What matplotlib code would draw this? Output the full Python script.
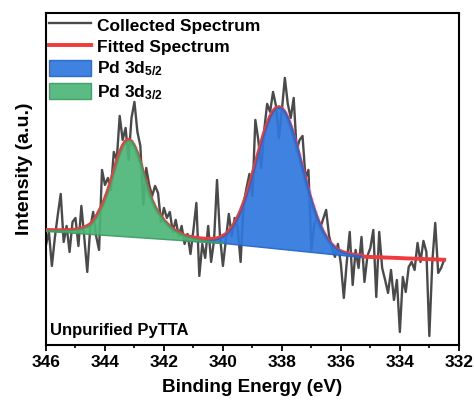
import numpy as np
import matplotlib
matplotlib.use("Agg")
import matplotlib.pyplot as plt
from matplotlib.ticker import MultipleLocator

plt.rcParams["font.family"] = "Liberation Sans"
plt.rcParams["font.weight"] = "bold"
plt.rcParams["mathtext.fontset"] = "custom"
plt.rcParams["mathtext.rm"] = "Liberation Sans:bold"
plt.rcParams["mathtext.it"] = "Liberation Sans:bold"
plt.rcParams["mathtext.bf"] = "Liberation Sans:bold"

# energy grid of the scan (eV), 0.1 eV step
e_start = 346.0
e_step = 0.1

# collected counts (a.u.)
collected = [100, 113, 79, 107, 130, 151, 103, 119, 93, 123,
             127, 99, 139, 107, 73, 117, 133, 109, 95, 175,
             160, 167, 155, 193, 185, 229, 205, 217, 185, 227,
             243, 213, 199, 140, 177, 160, 149, 159, 152, 123,
             137, 127, 133, 113, 125, 109, 119, 101, 111, 91,
             115, 142, 69, 101, 87, 119, 83, 105, 165, 109,
             79, 105, 131, 109, 127, 117, 83, 140, 157, 171,
             149, 225, 205, 177, 215, 241, 233, 253, 239, 207,
             235, 267, 241, 227, 247, 195, 205, 209, 167, 175,
             95, 121, 127, 117, 126, 135, 109, 97, 88, 101,
             81, 47, 83, 113, 60, 95, 77, 108, 63, 89,
             97, 115, 48, 113, 77, 65, 52, 75, 45, 65,
             13, 68, 53, 78, 83, 75, 102, 83, 104, 93,
             9, 83, 122, 72, 77, 85]

# fitted background on the same grid
background = [114.0, 113.8, 113.6, 113.4, 113.2, 113.0, 112.8, 112.6, 112.4, 112.2,
              112.0, 111.8, 111.6, 111.4, 111.2, 111.0, 110.8, 110.6, 110.4, 110.2,
              110.0, 109.8, 109.6, 109.4, 109.2, 109.0, 108.8, 108.6, 108.4, 108.2,
              108.0, 107.8, 107.6, 107.4, 107.2, 107.0, 106.8, 106.6, 106.4, 106.2,
              106.0, 105.8, 105.6, 105.4, 105.2, 105.0, 104.8, 104.6, 104.4, 104.2,
              104.0, 103.8, 103.6, 103.4, 103.2, 103.0, 102.8, 102.6, 102.4, 102.2,
              102.0, 101.7, 101.4, 101.1, 100.8, 100.5, 100.2, 99.9, 99.6, 99.3,
              99.0, 98.7, 98.4, 98.1, 97.8, 97.5, 97.2, 96.9, 96.6, 96.3,
              96.0, 95.7, 95.4, 95.1, 94.8, 94.5, 94.2, 93.9, 93.6, 93.3,
              93.0, 92.7, 92.4, 92.1, 91.8, 91.5, 91.2, 90.9, 90.6, 90.3,
              90.0, 89.7, 89.4, 89.1, 88.8, 88.5, 88.4, 88.3, 88.2, 88.1,
              88.0, 87.8, 87.7, 87.6, 87.5, 87.4, 87.3, 87.2, 87.1, 87.0,
              86.9, 86.7, 86.6, 86.5, 86.4, 86.3, 86.2, 86.1, 86.0, 85.9,
              85.8, 85.6, 85.5, 85.4, 85.3, 85.2]

# Pd 3d3/2 component above background, from 346.0 eV
green_start = 346.0
pd32 = [1.0, 1.1, 1.2, 1.3, 1.5, 1.7, 1.9, 2.2, 2.5, 2.9,
        3.4, 4.1, 4.8, 6.3, 7.7, 9.7, 13.1, 17.4, 23.2, 29.0,
        36.3, 44.5, 54.2, 64.3, 74.5, 83.2, 90.4, 95.1, 96.7, 95.1,
        90.4, 83.6, 74.5, 64.3, 54.2, 45.0, 37.2, 30.9, 26.1, 22.2,
        18.4, 15.5, 12.6, 10.6, 8.7, 7.3, 5.8, 4.8, 3.9, 3.3,
        2.7, 2.3, 1.9, 1.6, 1.4, 1.2, 1.0, 0.8, 0.7, 0.6,
        0.5]

# Pd 3d5/2 component above background, from 341.1 eV
blue_start = 341.1
pd52 = [0.7, 0.8, 1.0, 1.2, 1.4, 1.7, 2.0, 2.3, 2.8, 3.6,
        4.9, 6.7, 9.2, 12.4, 16.4, 21.2, 27.1, 34.0, 42.0, 51.0,
        60.9, 71.5, 82.6, 93.7, 104.6, 114.7, 123.7, 131.3, 136.9, 140.4,
        141.6, 140.4, 136.9, 131.3, 123.7, 114.7, 104.6, 93.7, 82.6, 71.5,
        60.9, 51.0, 42.0, 34.0, 27.1, 21.2, 16.4, 12.4, 9.2, 6.7,
        4.9, 3.6, 2.8, 2.3, 2.0, 1.7, 1.4, 1.2, 1.0]

energy = np.round(e_start - e_step * np.arange(len(collected)), 1)
bg = np.array(background)

ig = int(np.argmin(np.abs(energy - green_start)))
ib = int(np.argmin(np.abs(energy - blue_start)))
sl_g = slice(ig, ig + len(pd32))
sl_b = slice(ib, ib + len(pd52))

fitted = bg.copy()
fitted[sl_g] += np.array(pd32)
fitted[sl_b] += np.array(pd52)

fig = plt.figure(figsize=(4.74, 4.03), dpi=100)
ax = fig.add_axes([0.097, 0.144, 0.871, 0.824])

ax.plot(energy, collected, color="#4a4a4a", lw=1.7, zorder=2, label="Collected Spectrum")
ax.plot(energy, fitted, color="#ef3b3b", lw=2.8, zorder=3, label="Fitted Spectrum")
ax.fill_between(energy[sl_b], bg[sl_b], bg[sl_b] + np.array(pd52),
                facecolor="#2f77dd", edgecolor="#2466cc", lw=1, alpha=0.92,
                zorder=4, label="Pd 3d$_{5/2}$")
ax.fill_between(energy[sl_g], bg[sl_g], bg[sl_g] + np.array(pd32),
                facecolor="#4cb678", edgecolor="#3c9c62", lw=1, alpha=0.92,
                zorder=4, label="Pd 3d$_{3/2}$")

ax.set_xlim(346, 332)
ax.set_ylim(0, 332)
ax.xaxis.set_major_locator(MultipleLocator(2))
ax.xaxis.set_minor_locator(MultipleLocator(1))
ax.tick_params(axis="x", which="major", direction="out", length=4, width=1.3,
               labelsize=12.5, pad=3)
ax.tick_params(axis="x", which="minor", direction="out", length=2.5, width=1.2)
ax.set_yticks([])
for s in ax.spines.values():
    s.set_linewidth(1.5)

ax.set_xlabel("Binding Energy (eV)", fontsize=13.6, fontweight="bold", labelpad=7)
ax.set_ylabel("Intensity (a.u.)", fontsize=14, fontweight="bold")
ax.yaxis.set_label_coords(-0.031, 0.53)

ax.text(0.01, 0.03, "Unpurified PyTTA", transform=ax.transAxes, fontsize=12,
        fontweight="bold", va="baseline", ha="left")

ax.legend(loc="upper left", bbox_to_anchor=(0.0, 1.0), frameon=False, fontsize=12.5,
          handlelength=2.4, handleheight=1.1, handletextpad=0.35, labelspacing=0.25,
          borderaxespad=0.05, borderpad=0.15)

fig.savefig("out.png", dpi=100)
